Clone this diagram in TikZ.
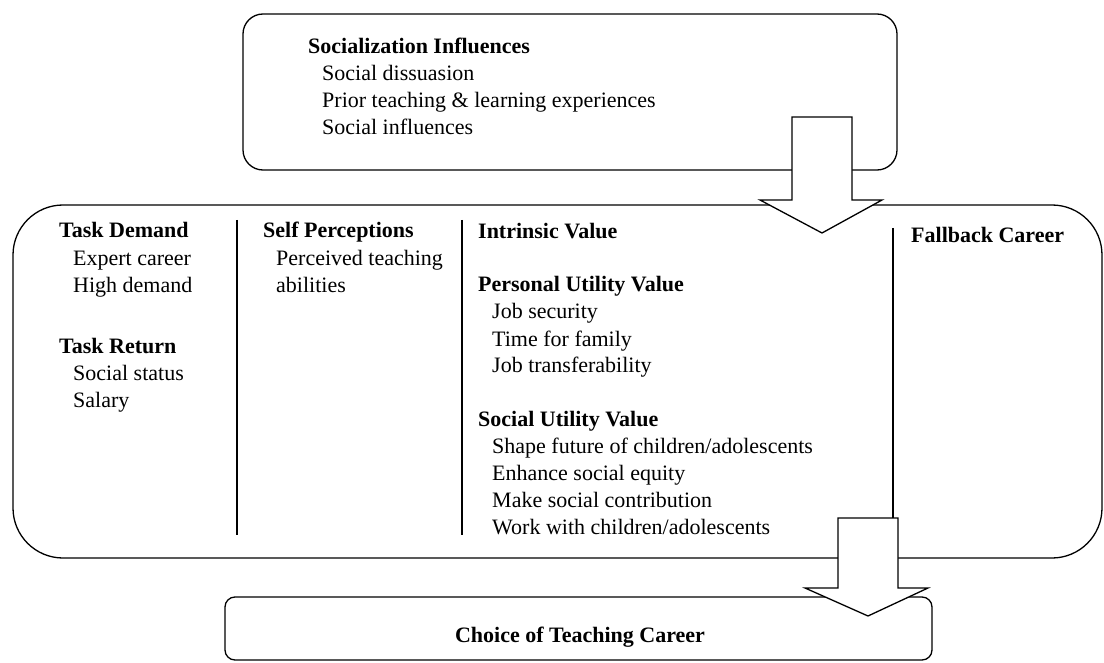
\documentclass[tikz,border=0pt]{standalone}
\usepackage{fontspec}
\setmainfont{Liberation Serif}
\begin{document}
\begin{tikzpicture}[x=1pt,y=-1pt,
  frame/.style={draw=black, line width=1.3pt},
  sepline/.style={draw=black, line width=1.3pt},
  blockarrow/.style={draw=black, fill=white, line width=1.3pt, line join=miter},
  head/.style={anchor=base west, inner sep=0pt, font=\fontsize{22}{26}\selectfont\bfseries},
  item/.style={anchor=base west, inner sep=0pt, font=\fontsize{22}{26}\selectfont}]
\useasboundingbox (0,0) rectangle (1104,663);

% --- frames ---
\draw[frame, rounded corners=20pt] (243,14) rectangle (897,170);
\node[inner sep=0pt, minimum width=654pt, minimum height=156pt] (soc) at (570,92) {};
\draw[frame, rounded corners=50pt] (13,205) rectangle (1102,558);
\node[inner sep=0pt, minimum width=1089pt, minimum height=353pt] (mid) at (557.5,381.5) {};
\draw[frame, rounded corners=10pt] (225,597) rectangle (932,660);

% --- column separators ---
\draw[sepline] (237,220) -- (237,535);
\draw[sepline] (462,220) -- (462,535);
\draw[sepline] (893,228) -- (893,540);

% --- socialization influences ---
\node[head] (si) at (308,54) {Socialization Influences};
\node[item] (si1) at (322,81) {Social dissuasion};
\node[item] (si2) at (322,108) {Prior teaching \& learning experiences};
\node[item] (si3) at (322,135) {Social influences};

% --- task demand / task return ---
\node[head] (td) at (59,238) {Task Demand};
\node[item] (td1) at (73,266) {Expert career};
\node[item] (td2) at (73,293) {High demand};
\node[head] (tr) at (59,353) {Task Return};
\node[item] (tr1) at (73,380) {Social status};
\node[item] (tr2) at (73,407) {Salary};

% --- self perceptions ---
\node[head] (sp) at (263,238) {Self Perceptions};
\node[item] (sp1) at (276,266) {Perceived teaching};
\node[item] (sp2) at (276,293) {abilities};

% --- values ---
\node[head] (iv) at (478,239) {Intrinsic Value};
\node[head] (pu) at (478,292) {Personal Utility Value};
\node[item] (pu1) at (492,319) {Job security};
\node[item] (pu2) at (492,346) {Time for family};
\node[item] (pu3) at (492,373) {Job transferability};
\node[head] (su) at (478,426) {Social Utility Value};
\node[item] (su1) at (492,453) {Shape future of children/adolescents};
\node[item] (su2) at (492,480) {Enhance social equity};
\node[item] (su3) at (492,507) {Make social contribution};
\node[item] (su4) at (492,534) {Work with children/adolescents};

% --- fallback career ---
\node[head] (fc) at (911,243) {Fallback Career};

% --- outcome ---
\node[anchor=base, inner sep=0pt, font=\fontsize{22}{26}\selectfont\bfseries] (choice) at (580,642) {Choice of Teaching Career};

% --- block arrows ---
\coordinate (a1) at (822,117);
\coordinate (a2) at (868,518);
\draw[blockarrow] (a1) ++(-30,0) -- ++(60,0) -- ++(0,83) -- ++(30,0) -- (822,233)
  -- (760,200) -- (792,200) -- cycle;
\draw[blockarrow] (a2) ++(-30,0) -- ++(60,0) -- ++(0,70) -- ++(30,0) -- (868,616)
  -- (805,588) -- (838,588) -- cycle;
\end{tikzpicture}
\end{document}
